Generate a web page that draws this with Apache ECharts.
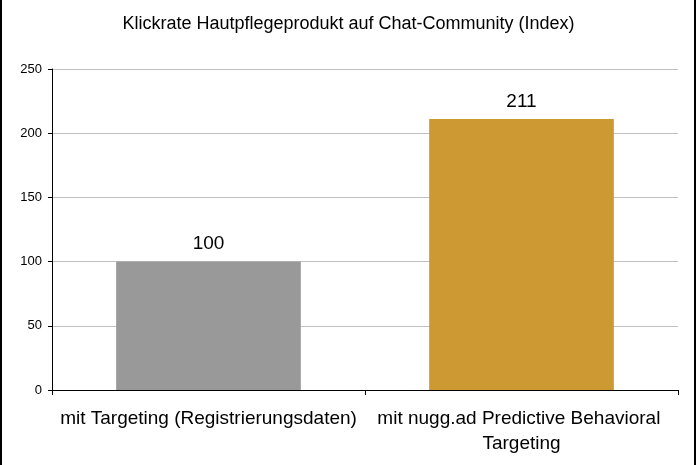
<!DOCTYPE html>
<html>
<head>
<meta charset="utf-8">
<script src="https://cdn.jsdelivr.net/npm/echarts@6/dist/echarts.min.js"></script>
<style>
    body { margin: 0; background: #fff; }
    #wrap { position: relative; width: 697px; height: 465px; }
    #klickChart { width: 697px; height: 465px; }
    .rand { position: absolute; top: 0; width: 2px; height: 465px; background: #000; }
</style>
</head>
<body>
<div id="wrap">
    <div id="klickChart"></div>
    <div class="rand" style="left:0"></div>
    <div class="rand" style="left:694px"></div>
</div>
<script>
// Daten
var kategorien = ['mit Targeting (Registrierungsdaten)', 'mit nugg.ad Predictive Behavioral Targeting'];
var indexWerte = [100, 211];
var balkenFarben = ['#999999', '#CC9933'];

var klickChart = echarts.init(document.getElementById('klickChart'));

var convertBarData = function (werte) {
    var res = [];
    for (var i = 0; i < werte.length; i++) {
        res.push({
            value: werte[i],
            itemStyle: { color: balkenFarben[i] }
        });
    }
    return res;
};

klickChart.setOption({
    animation: false,
    textStyle: { fontFamily: 'Liberation Sans, Arial, sans-serif' },
    title: {
        text: 'Klickrate Hautpflegeprodukt auf Chat-Community (Index)',
        left: 'center',
        top: 10,
        textStyle: { fontSize: 18, fontWeight: 'normal', color: '#000' }
    },
    grid: {
        left: 52,
        right: 19,
        top: 69,
        bottom: 75
    },
    xAxis: {
        type: 'category',
        data: kategorien,
        axisLine: { lineStyle: { color: '#000', width: 1 } },
        axisTick: { show: true, length: 5, lineStyle: { color: '#000' } },
        axisLabel: {
            color: '#000',
            fontSize: 19,
            margin: 16,
            width: 310,
            overflow: 'break',
            lineHeight: 25,
            interval: 0
        }
    },
    yAxis: {
        type: 'value',
        min: 0,
        max: 250,
        interval: 50,
        axisLine: { show: true, lineStyle: { color: '#000', width: 1 } },
        axisTick: { show: true, length: 4, lineStyle: { color: '#000' } },
        axisLabel: { color: '#000', fontSize: 13, margin: 10 },
        splitLine: { show: true, lineStyle: { color: '#c0c0c0', width: 1 } }
    },
    series: [
        {
            name: 'Index',
            type: 'bar',
            barWidth: '59%',
            data: convertBarData(indexWerte),
            label: {
                show: true,
                position: 'top',
                distance: 8,
                color: '#000',
                fontSize: 19
            }
        }
    ]
});
</script>
</body>
</html>
